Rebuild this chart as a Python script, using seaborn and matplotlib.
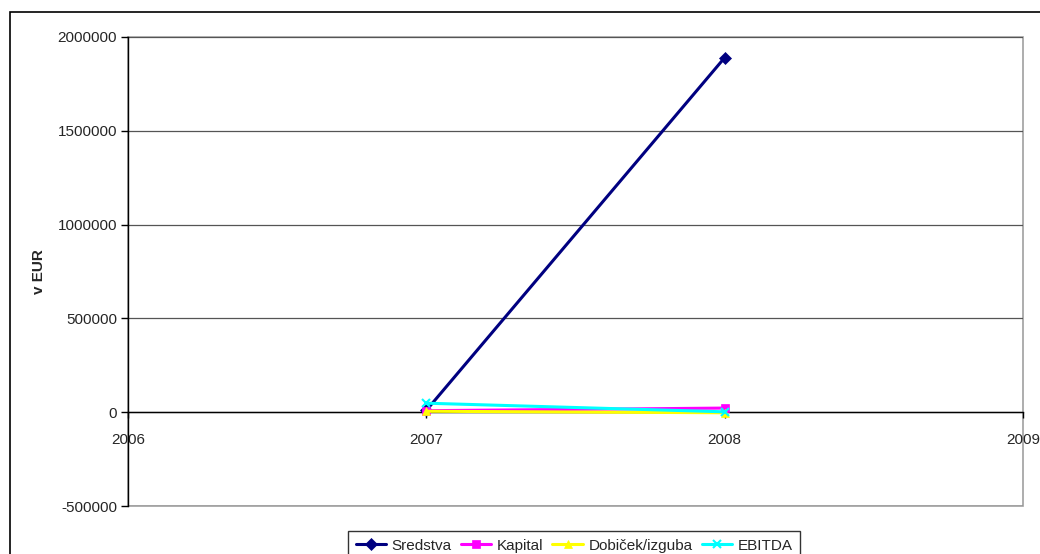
import matplotlib
matplotlib.use("Agg")
import matplotlib.pyplot as plt
import seaborn as sns
import pandas as pd
from matplotlib.patches import Rectangle

years = [2007, 2008]
sredstva = [10000, 1890000]
kapital = [8000, 22000]
dobicek = [5000, -3000]
ebitda = [48000, 2000]
series_names = ["Sredstva", "Kapital", "Dobiček/izguba", "EBITDA"]
x_ticks = [2006, 2007, 2008, 2009]
y_ticks = [-500000, 0, 500000, 1000000, 1500000, 2000000]

df = pd.DataFrame({
    "leto": years * 4,
    "vrednost": sredstva + kapital + dobicek + ebitda,
    "serija": [s for s in series_names for _ in years],
})

sns.set_theme(style="white")
plt.rcParams["font.family"] = ["Liberation Sans", "DejaVu Sans"]

FS = 11
fig = plt.figure(figsize=(10.4, 5.54), dpi=100)
ax = fig.add_axes([128/1040, 1-506/554, (1023-128)/1040, (506-37)/554])

colors = {"Sredstva": "#000080", "Kapital": "#FF00FF",
          "Dobiček/izguba": "#FFFF00", "EBITDA": "#00FFFF"}
markers = {"Sredstva": "D", "Kapital": "s", "Dobiček/izguba": "^", "EBITDA": "x"}

for name in series_names:
    sub = df[df["serija"] == name]
    sns.lineplot(data=sub, x="leto", y="vrednost", ax=ax, color=colors[name],
                 marker=markers[name], markersize=7 if markers[name] != "x" else 8,
                 markeredgewidth=1.5 if markers[name] == "x" else 0.5,
                 markeredgecolor=colors[name], linewidth=2.4, label=name, zorder=3)

ax.set_xlim(2006, 2009)
ax.set_ylim(-500000, 2000000)
ax.set_xticks(x_ticks)
ax.set_yticks(y_ticks)
ax.set_xticklabels([str(v) for v in x_ticks], fontsize=FS)
ax.set_yticklabels([str(v) for v in y_ticks], fontsize=FS)
ax.set_xlabel("")
ax.set_ylabel("v EUR", fontsize=FS, fontweight="bold", labelpad=8)

ax.yaxis.grid(True, color="#555555", linewidth=0.9)
ax.xaxis.grid(False)
ax.set_axisbelow(True)

ax.patch.set_facecolor("white")
for s in ["top", "right"]:
    ax.spines[s].set_visible(False)
ax.spines["left"].set_color("black")
ax.spines["left"].set_linewidth(1.0)
ax.spines["bottom"].set_position(("data", 0))
ax.spines["bottom"].set_color("black")
ax.spines["bottom"].set_linewidth(1.0)
ax.add_patch(Rectangle((0, 0), 1, 1, transform=ax.transAxes, fill=False,
                       edgecolor="#A0A0A0", linewidth=1.2, zorder=0.5, clip_on=False))

ax.tick_params(axis="y", direction="out", length=5, width=1, color="black", left=True, pad=3)
ax.tick_params(axis="x", direction="out", length=4, width=1, color="black", bottom=True, pad=11)
for lbl in ax.get_xticklabels():
    lbl.set_clip_on(False)

ax.get_legend().remove()
handles, labels = ax.get_legend_handles_labels()
for h in handles:
    h.set_markersize(6)
    h.set_linewidth(2.2)
leg = fig.legend(handles, labels, loc="upper left", bbox_to_anchor=(348/1040, 1-531/554),
                 ncol=4, frameon=True, fancybox=False, fontsize=FS, handlelength=2.0,
                 handletextpad=0.35, columnspacing=0.6, borderpad=0.5, borderaxespad=0)
leg.get_frame().set_edgecolor("black")
leg.get_frame().set_linewidth(1.0)

fig.patches.append(Rectangle((10/1040, -0.1), 1.2, 1-12/554+0.1, transform=fig.transFigure,
                             fill=False, edgecolor="black", linewidth=1.2, zorder=0))

fig.savefig("out.png", dpi=100)
